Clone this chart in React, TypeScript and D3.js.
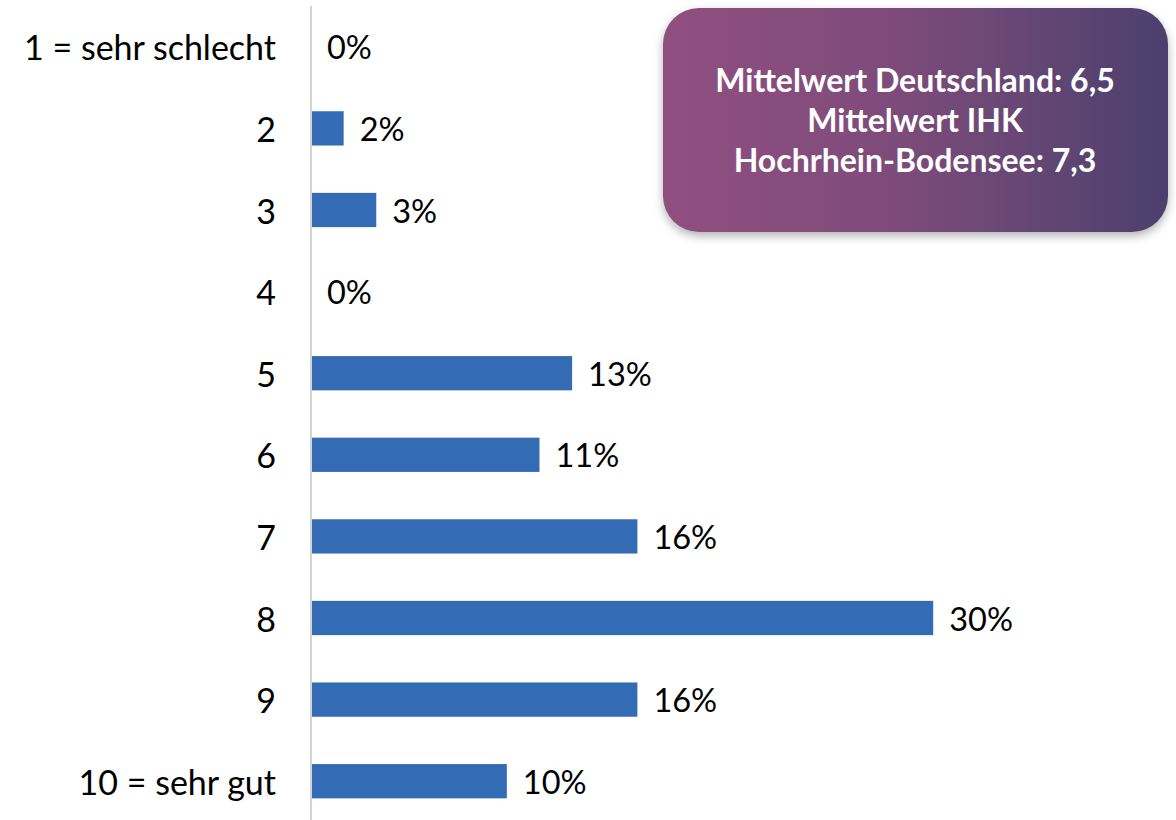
import React from "react";
import * as d3 from "d3";

const categories = ["1 = sehr schlecht", "2", "3", "4", "5", "6", "7", "8", "9", "10 = sehr gut"];
const values = [0, 1.6, 3.2, 0, 12.8, 11.2, 16.0, 30.5, 16.0, 9.6];
const valueLabels = ["0%", "2%", "3%", "0%", "13%", "11%", "16%", "30%", "16%", "10%"];
const infoLines = ["Mittelwert Deutschland: 6,5", "Mittelwert IHK", "Hochrhein-Bodensee: 7,3"];

const W = 1176;
const H = 820;
const FONT = "Lato, 'Noto Sans', sans-serif";

export default function App() {
  const axisX = 311;
  const y = d3
    .scaleBand<string>()
    .domain(categories)
    .range([6, 822])
    .paddingInner(0.58)
    .paddingOuter(0.29);
  const x = d3.scaleLinear().domain([0, 40]).range([axisX, axisX + 816]);

  return (
    <svg
      width={W}
      height={H}
      style={{ position: "absolute", left: 0, top: 0, background: "#fff" }}
      fontFamily={FONT}
    >
      <defs>
        <linearGradient id="boxGrad" x1="0" y1="0" x2="1" y2="0">
          <stop offset="0%" stopColor="#904f80" />
          <stop offset="45%" stopColor="#7e4c7a" />
          <stop offset="100%" stopColor="#4c406e" />
        </linearGradient>
        <filter id="shadow" x="-10%" y="-10%" width="120%" height="130%">
          <feDropShadow dx="0" dy="4" stdDeviation="5" floodColor="#000" floodOpacity="0.3" />
        </filter>
      </defs>

      {categories.map((c, i) => {
        const yc = (y(c) as number) + y.bandwidth() / 2;
        const w = x(values[i]) - x(0);
        return (
          <g key={c}>
            {w > 0 && (
              <rect x={x(0)} y={y(c)} width={w} height={y.bandwidth()} fill="#336cb4" />
            )}
            <text
              x={276}
              y={yc}
              textAnchor="end"
              dominantBaseline="central"
              fontSize={34}
              fill="#000"
            >
              {c}
            </text>
            <text
              x={x(values[i]) + 16}
              y={yc}
              dominantBaseline="central"
              fontSize={32.5}
              fill="#000"
            >
              {valueLabels[i]}
            </text>
          </g>
        );
      })}

      <line x1={axisX} x2={axisX} y1={6} y2={H} stroke="#d4d4d4" strokeWidth={2} />

      <rect
        x={663}
        y={8}
        width={505}
        height={224}
        rx={36}
        ry={36}
        fill="url(#boxGrad)"
        filter="url(#shadow)"
      />
      {infoLines.map((t, i) => (
        <text
          key={t}
          x={915}
          y={92 + i * 40}
          textAnchor="middle"
          fontSize={32}
          fontWeight="bold"
          fill="#fff"
        >
          {t}
        </text>
      ))}
    </svg>
  );
}
